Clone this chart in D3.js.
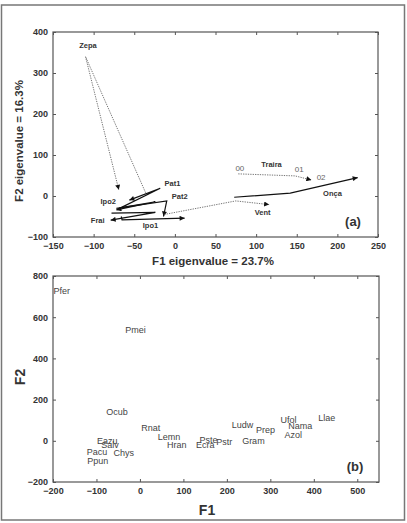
<!DOCTYPE html>
<html>
<head>
<meta charset="utf-8">
<title>Trajectories and species ordination</title>
<style>
  body { margin: 0; background: #fff; }
  text { font-family: "Liberation Sans", Arial, sans-serif; fill: #333; }
  .tick text { font-weight: bold; font-size: 9px; }
  .frame { fill: none; stroke: #555; stroke-width: 1.2; }
  .site-label { font-weight: bold; font-size: 7.5px; }
  .year-label { font-size: 8px; fill: #666; }
  .species { font-size: 9px; fill: #444; }
  .title { font-weight: bold; font-size: 11.5px; }
  .panel-tag { font-weight: bold; font-size: 13px; }
</style>
</head>
<body>
<script src="https://d3js.org/d3.v7.min.js"></script>
<script>
const W = 407, H = 523;

// panel (a): site trajectories, points 00 -> 01 -> 02
const sites = ["Zepa", "Pat1", "Pat2", "Ipo2", "Frai", "Ipo1", "Vent", "Traira", "Onça"];
const siteF1 = [
  [-36, -110, -69],
  [-70, -18, -56],
  [-72, -10, -14],
  [-66, -24, -72],
  [-78, -24, -79],
  [-66, -65, 12],
  [-13, 75, 116],
  [78, 148, 168],
  [73, 142, 225]
];
const siteF2 = [
  [8, 340, 15],
  [-32, 19, -10],
  [-30, -12, -50],
  [-28, -14, -34],
  [-42, -40, -59],
  [-50, -58, -54],
  [-45, -12, -21],
  [54, 49, 39],
  [-3, 7, 45]
];
const dottedSites = ["Zepa", "Vent", "Traira"];
const siteLabelF1 = [-107, -3, 6, -82, -95, -30, 108, 119, 194];
const siteLabelF2 = [367, 31, -2, -14, -60, -71, -41, 77, 7];
const yearLabels = ["00", "01", "02"];
const yearLabelF1 = [80, 153, 180];
const yearLabelF2 = [68, 65, 46];

const aTicksX = [-150, -100, -50, 0, 50, 100, 150, 200, 250];
const aTicksY = [-100, 0, 100, 200, 300, 400];

// panel (b): species scores
const species = ["Pfer", "Pmei", "Ocub", "Rnat", "Lemn", "Hran", "Pste", "Ecra", "Pstr", "Gram",
  "Ludw", "Prep", "Ufol", "Nama", "Azol", "Llae", "Eazu", "Salv", "Pacu", "Chys", "Ppun"];
const speciesF1 = [-180, -10, -53, 25, 67, 85, 158, 150, 194, 261,
  236, 289, 342, 369, 353, 430, -75, -69, -99, -37, -97];
const speciesF2 = [729, 538, 141, 65, 17, -20, 7, -22, -7, 2,
  77, 52, 104, 72, 28, 111, 1, -22, -56, -58, -98];

const bTicksX = [-200, -100, 0, 100, 200, 300, 400, 500];
const bTicksY = [-200, 0, 200, 400, 600, 800];

const svg = d3.select("body").append("svg")
  .attr("width", W).attr("height", H);

svg.append("rect")
  .attr("x", 1.5).attr("y", 5).attr("width", 403).attr("height", 515)
  .attr("fill", "none").attr("stroke", "#777").attr("stroke-width", 1.5);

svg.append("defs").append("marker")
  .attr("id", "arrow")
  .attr("viewBox", "0 0 10 10")
  .attr("refX", 10).attr("refY", 5)
  .attr("markerWidth", 7).attr("markerHeight", 5)
  .attr("markerUnits", "userSpaceOnUse")
  .attr("orient", "auto")
  .append("path").attr("d", "M0,0L10,5L0,10Z").attr("fill", "#111");

function panel(box, xDom, yDom, xTicks, yTicks) {
  const x = d3.scaleLinear().domain(xDom).range([box.left, box.right]);
  const y = d3.scaleLinear().domain(yDom).range([box.bottom, box.top]);
  const g = svg.append("g");

  // inner ticks on all four sides
  g.append("g")
    .attr("transform", `translate(0,${box.bottom})`)
    .call(d3.axisBottom(x).tickValues(xTicks).tickSizeInner(-3).tickSizeOuter(0).tickPadding(6))
    .call(a => a.select(".domain").remove());
  g.append("g")
    .attr("transform", `translate(0,${box.top})`)
    .call(d3.axisTop(x).tickValues(xTicks).tickSizeInner(-3).tickSizeOuter(0).tickFormat(""))
    .call(a => a.select(".domain").remove());
  g.append("g")
    .attr("transform", `translate(${box.left},0)`)
    .call(d3.axisLeft(y).tickValues(yTicks).tickSizeInner(-3).tickSizeOuter(0).tickPadding(5))
    .call(a => a.select(".domain").remove());
  g.append("g")
    .attr("transform", `translate(${box.right},0)`)
    .call(d3.axisRight(y).tickValues(yTicks).tickSizeInner(-3).tickSizeOuter(0).tickFormat(""))
    .call(a => a.select(".domain").remove());
  g.selectAll(".tick line").attr("stroke", "#555");
  g.selectAll(".tick text").attr("fill", "#333");

  g.append("rect").attr("class", "frame")
    .attr("x", box.left).attr("y", box.top)
    .attr("width", box.right - box.left).attr("height", box.bottom - box.top);
  return { x, y, g };
}

// ---- panel (a)
const A = panel({ left: 53, right: 378, top: 32, bottom: 237 }, [-150, 250], [-100, 400], aTicksX, aTicksY);

const line = d3.line().x(d => A.x(d[0])).y(d => A.y(d[1]));
sites.forEach((s, i) => {
  const pts = siteF1[i].map((v, j) => [v, siteF2[i][j]]);
  const dotted = dottedSites.includes(s);
  A.g.append("path")
    .attr("d", line(pts))
    .attr("fill", "none")
    .attr("stroke", dotted ? "#666" : "#111")
    .attr("stroke-width", dotted ? 0.9 : 1.2)
    .attr("stroke-dasharray", dotted ? "1.3,1.1" : null)
    .attr("marker-end", "url(#arrow)");
});

A.g.selectAll(".site-label").data(sites).join("text")
  .attr("class", "site-label")
  .attr("x", (d, i) => A.x(siteLabelF1[i]))
  .attr("y", (d, i) => A.y(siteLabelF2[i]))
  .attr("text-anchor", "middle").attr("dy", "0.35em")
  .text(d => d);

A.g.selectAll(".year-label").data(yearLabels).join("text")
  .attr("class", "year-label")
  .attr("x", (d, i) => A.x(yearLabelF1[i]))
  .attr("y", (d, i) => A.y(yearLabelF2[i]))
  .attr("text-anchor", "middle").attr("dy", "0.35em")
  .text(d => d);

svg.append("text").attr("class", "panel-tag")
  .attr("x", 353).attr("y", 226).attr("text-anchor", "middle").text("(a)");

svg.append("text").attr("class", "title")
  .attr("x", 213).attr("y", 265).attr("text-anchor", "middle")
  .text("F1 eigenvalue = 23.7%");
svg.append("text").attr("class", "title")
  .attr("transform", "translate(23,141) rotate(-90)")
  .attr("text-anchor", "middle")
  .text("F2 eigenvalue = 16.3%");

// ---- panel (b)
const B = panel({ left: 53, right: 379, top: 276, bottom: 482 }, [-200, 550], [-200, 800], bTicksX, bTicksY);

B.g.selectAll(".species").data(species).join("text")
  .attr("class", "species")
  .attr("x", (d, i) => B.x(speciesF1[i]))
  .attr("y", (d, i) => B.y(speciesF2[i]))
  .attr("text-anchor", "middle").attr("dy", "0.35em")
  .text(d => d);

svg.append("text").attr("class", "panel-tag")
  .attr("x", 355).attr("y", 471).attr("text-anchor", "middle").text("(b)");

svg.append("text").attr("class", "title")
  .attr("x", 207).attr("y", 515).attr("text-anchor", "middle")
  .style("font-size", "14px").text("F1");
svg.append("text").attr("class", "title")
  .attr("transform", "translate(25,377) rotate(-90)")
  .attr("text-anchor", "middle")
  .style("font-size", "14px").text("F2");
</script>
</body>
</html>
